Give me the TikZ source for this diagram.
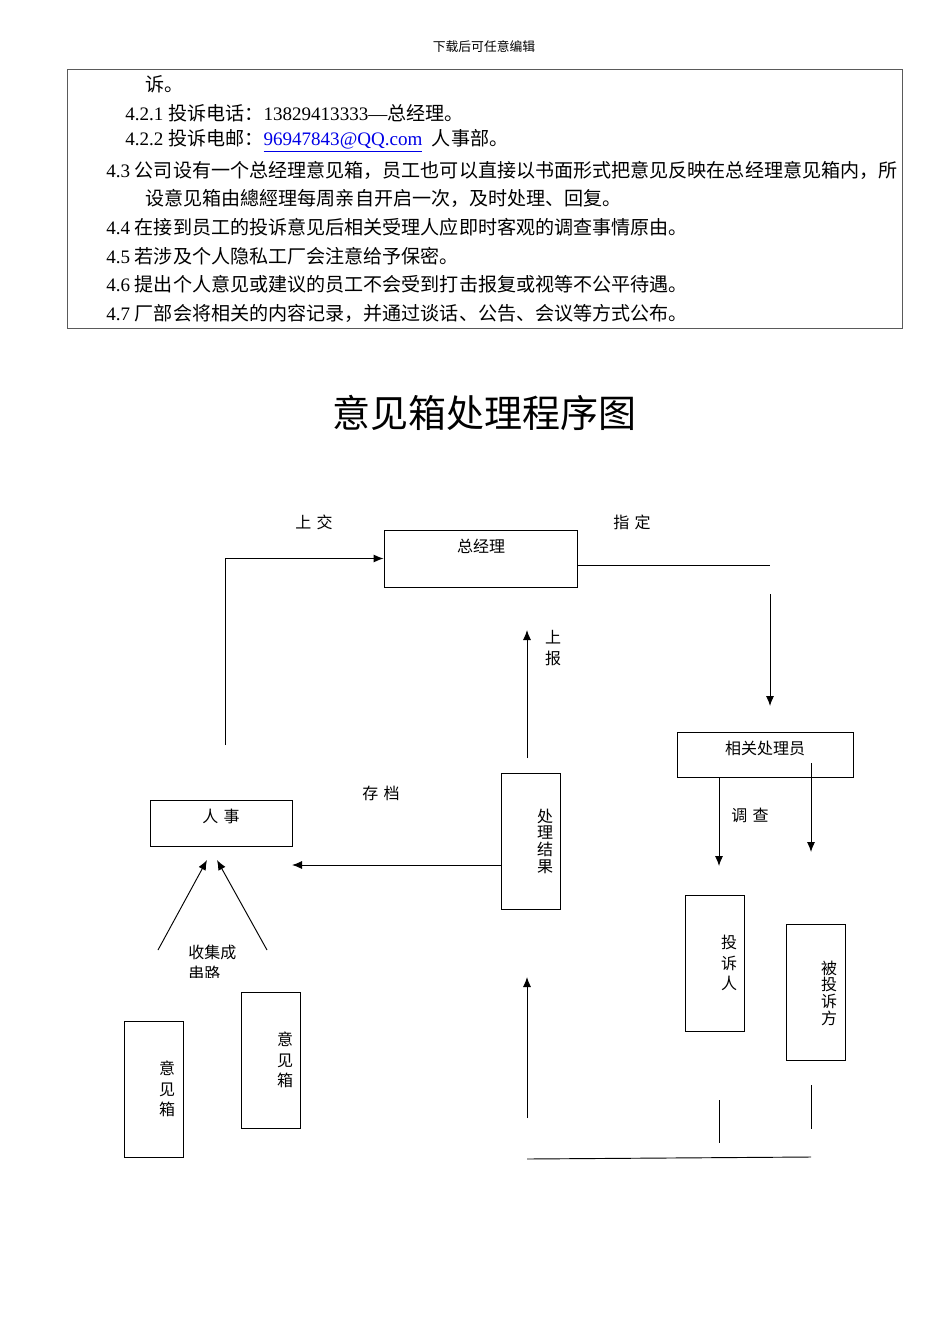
\documentclass[tikz,border=0pt]{standalone}
\usepackage{fontspec}
\setmainfont{Liberation Serif}
\newfontfamily\cjk{Noto Sans CJK SC}
\usetikzlibrary{arrows.meta,calc,positioning}
\usepackage{xcolor}
\definecolor{linkc}{RGB}{0,0,230}
\definecolor{framec}{RGB}{90,90,90}

\begin{document}
\begin{tikzpicture}[x=0.75pt, y=-0.75pt,
  txt/.style={anchor=west, inner sep=0pt, font=\fontsize{14.3pt}{18pt}\selectfont},
  lbl/.style={inner sep=0pt, font=\cjk\fontsize{12pt}{15pt}\selectfont},
  vlbl/.style={inner sep=0pt, align=center, font=\cjk\fontsize{12pt}{12.5pt}\selectfont},
  wlbl/.style={inner sep=0pt, align=center, font=\cjk\fontsize{12pt}{15.5pt}\selectfont},
  box/.style={draw, line width=0.7pt, inner sep=0pt},
  vbox/.style={box, minimum width=44.25pt, minimum height=102pt},
  arr/.style={-{Latex[length=7.5pt,width=6pt]}, line width=0.7pt},
  ln/.style={line width=0.7pt},
]
\useasboundingbox (0,0) rectangle (950,1344);

% page header
\node[inner sep=0pt, font=\cjk\fontsize{9.6pt}{11pt}\selectfont] (hdr) at (484,47) {下载后可任意编辑};

% text box
\draw[framec, line width=0.7pt] (67,69) rectangle (902,328);
\node[txt] (l0) at (145,84) {\cjk 诉。};
\node[txt] (l1) at (125,113) {4.2.1 {\cjk 投诉电话：}13829413333—{\cjk 总经理。}};
\node[txt] (l2) at (125,141) {4.2.2 {\cjk 投诉电邮：}\textcolor{linkc}{\underline{96947843@QQ.com}}\ \ {\cjk 人事部。}};
\node[txt] (l3) at (106,170) {4.3 {\cjk 公司设有一个总经理意见箱，员工也可以直接以书面形式把意见反映在总经理意见箱内，所}};
\node[txt] (l4) at (145,198) {\cjk 设意见箱由總經理每周亲自开启一次，及时处理、回复。};
\node[txt] (l5) at (106,227) {4.4 {\cjk 在接到员工的投诉意见后相关受理人应即时客观的调查事情原由。}};
\node[txt] (l6) at (106,256) {4.5 {\cjk 若涉及个人隐私工厂会注意给予保密。}};
\node[txt] (l7) at (106,284) {4.6 {\cjk 提出个人意见或建议的员工不会受到打击报复或视等不公平待遇。}};
\node[txt] (l8) at (106,313) {4.7 {\cjk 厂部会将相关的内容记录，并通过谈话、公告、会议等方式公布。}};

% title
\node[inner sep=0pt, font=\cjk\fontsize{28.5pt}{32pt}\selectfont] (title) at (484,413) {意见箱处理程序图};

% boxes
\node[box, minimum width=144.75pt, minimum height=42.75pt] (gm) at (480.5,558.5) {};
\node[box, minimum width=132pt, minimum height=33.75pt] (xg) at (765,754.5) {};
\node[box, minimum width=106.5pt, minimum height=34.5pt] (rs) at (221,823) {};
\node[vbox] (jg) at (530.5,841) {};
\node[vbox] (ts) at (715,963.5) {};
\node[vbox] (bt) at (816,992.5) {};
\node[vbox] (yx1) at (153.5,1089) {};
\node[vbox] (yx2) at (271,1060) {};

% box texts
\node[lbl] (gmt) at (481,546) {总经理};
\node[lbl] (xgt) at (765,748) {相关处理员};
\node[lbl] (rst) at (221,816) {人\hspace{4pt}事};
\node[vlbl] (jgt) at (545,841) {处\\理\\结\\果};
\node[wlbl] (tst) at (729,963) {投\\诉\\人};
\node[vlbl] (btt) at (829,993) {被\\投\\诉\\方};
\node[wlbl] (yx1t) at (167,1089) {意\\见\\箱};
\node[wlbl] (yx2t) at (285,1060) {意\\见\\箱};

% connector labels
\node[lbl] (sj) at (314,522) {上\hspace{4pt}交};
\node[lbl] (zd) at (632,522) {指\hspace{4pt}定};
\node[wlbl] (sb) at (553,648) {上\\报};
\node[lbl] (cd) at (381,793) {存\hspace{4pt}档};
\node[lbl] (dc) at (750,815) {调\hspace{4pt}查};
\begin{scope}
  \clip (180,935) rectangle (270,977);
  \node[lbl, anchor=north west, align=left, font=\cjk\fontsize{12pt}{15.5pt}\selectfont] (sjcl) at (188,945) {收集成\\串路};
\end{scope}

% free ends
\coordinate (rsup) at (225,745);
\coordinate (zd1) at (770,565);
\coordinate (zd2) at (770,594);
\coordinate (zd3) at (770,706);
\coordinate (dc1) at (719,866);
\coordinate (dc2) at (811,763);
\coordinate (dc3) at (811,852);
\coordinate (ts1) at (719,1100);
\coordinate (ts2) at (719,1143);
\coordinate (bt1) at (811,1085);
\coordinate (bt2) at (811,1129);
\coordinate (bl1) at (527,1159);
\coordinate (bl2) at (811,1157);
\coordinate (up1) at (527,1118);
\coordinate (up2) at (527,977);
\coordinate (sb1) at (527,758);
\coordinate (sb2) at (527,630);
\coordinate (cd1) at (292,865);
\coordinate (sja) at (158,950);
\coordinate (sjb) at (207,860);
\coordinate (sjc) at (267,950);
\coordinate (sjd) at (217,860);

% connectors
\draw[arr] (rsup) |- (gm.west);
\draw[ln] (gm.east |- zd1) -- (zd1);
\draw[arr] (zd2) -- (zd3);
\draw[arr] (xg.south -| dc1) -- (dc1);
\draw[arr] (dc2) -- (dc3);
\draw[ln] (ts1) -- (ts2);
\draw[ln] (bt1) -- (bt2);
\draw[ln] (bl1) -- (bl2);
\draw[arr] (up1) -- (up2);
\draw[arr] (sb1) -- (sb2);
\draw[arr] (jg.west |- cd1) -- (cd1);
\draw[arr] (sja) -- (sjb);
\draw[arr] (sjc) -- (sjd);

\end{tikzpicture}
\end{document}
